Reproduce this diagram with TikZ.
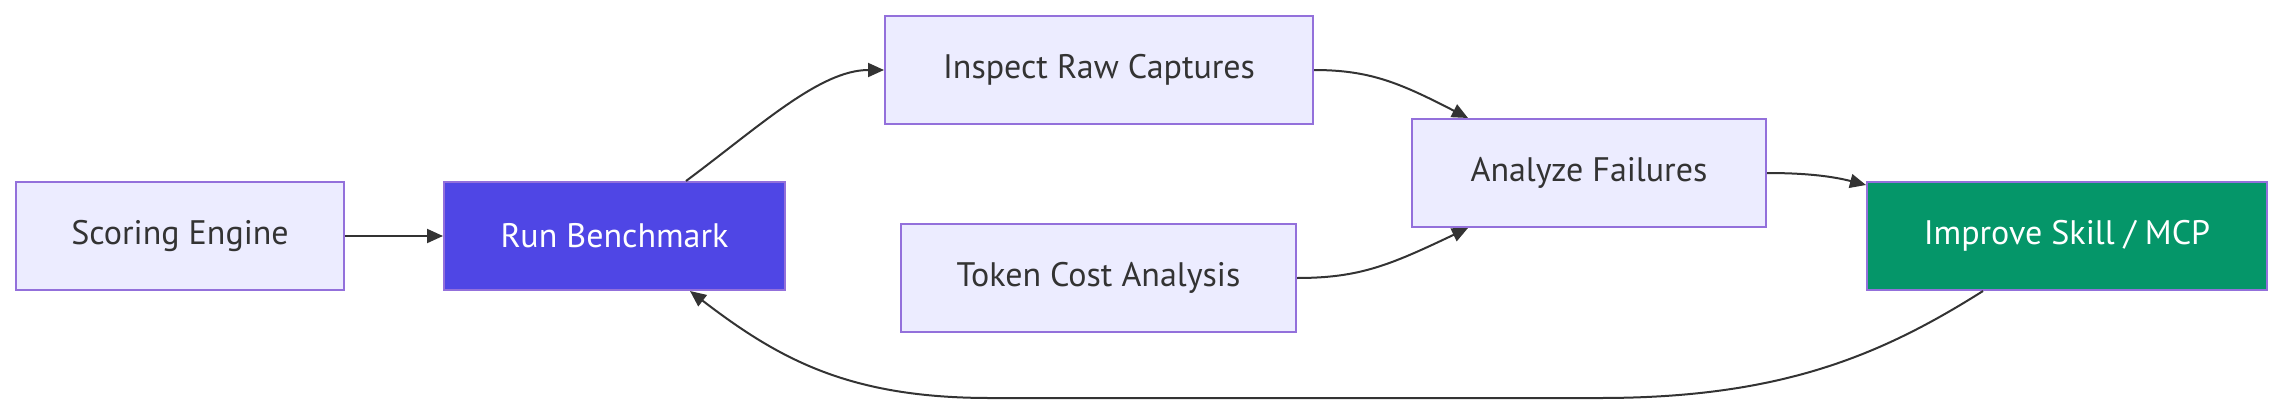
\documentclass[tikz,border=0pt]{standalone}
\usepackage{fontspec}
\setmainfont{PT Sans}
\usetikzlibrary{arrows.meta}
\definecolor{boxfill}{HTML}{ECECFF}
\definecolor{boxline}{HTML}{9370DB}
\definecolor{txt}{HTML}{333333}
\definecolor{runfill}{HTML}{4F46E5}
\definecolor{impfill}{HTML}{059669}
\tikzset{
  box/.style={draw=boxline, line width=1pt, fill=boxfill, text=txt, minimum height=54pt,
    inner sep=0pt, font=\fontsize{17pt}{20pt}\selectfont},
  runbox/.style={box, fill=runfill, text=white},
  impbox/.style={box, fill=impfill, text=white},
  edge/.style={draw=txt, line width=1pt, -{Triangle[length=8pt,width=7pt]}},
}
\begin{document}
\begin{tikzpicture}[x=0.5pt,y=-0.5pt]
\useasboundingbox (0,0) rectangle (2283,418);
\node[box, minimum width=164pt] (score) at (180,236) {Scoring Engine};
\node[runbox, minimum width=170.5pt] (run) at (614.5,236) {Run Benchmark};
\node[box, minimum width=214pt] (inspect) at (1099,70) {Inspect Raw Captures};
\node[box, minimum width=197.5pt] (token) at (1098.5,278) {Token Cost Analysis};
\node[box, minimum width=177pt] (analyze) at (1589,173) {Analyze Failures};
\node[impbox, minimum width=200pt] (improve) at (2067,236) {Improve Skill / MCP};

\draw[edge] (score.east) -- (run.west);
\draw[edge] ([xshift=35.75pt]run.north) .. controls (760,126) and (820,70) .. (inspect.west);
\draw[edge] (inspect.east) .. controls (1370,70) and (1400,83) .. ([xshift=-60.5pt]analyze.north);
\draw[edge] (token.east) .. controls (1360,278) and (1390,265) .. ([xshift=-60.5pt]analyze.south);
\draw[edge] (analyze.east) .. controls (1810,173) and (1835,177) .. ([yshift=-2pt]improve.north west);
\draw[edge] ([xshift=-42pt]improve.south) .. controls (1880,356) and (1780,398) .. (1600,398)
  -- (990,398) .. controls (850,398) and (780,360) .. ([xshift=37.75pt]run.south);
\end{tikzpicture}
\end{document}
